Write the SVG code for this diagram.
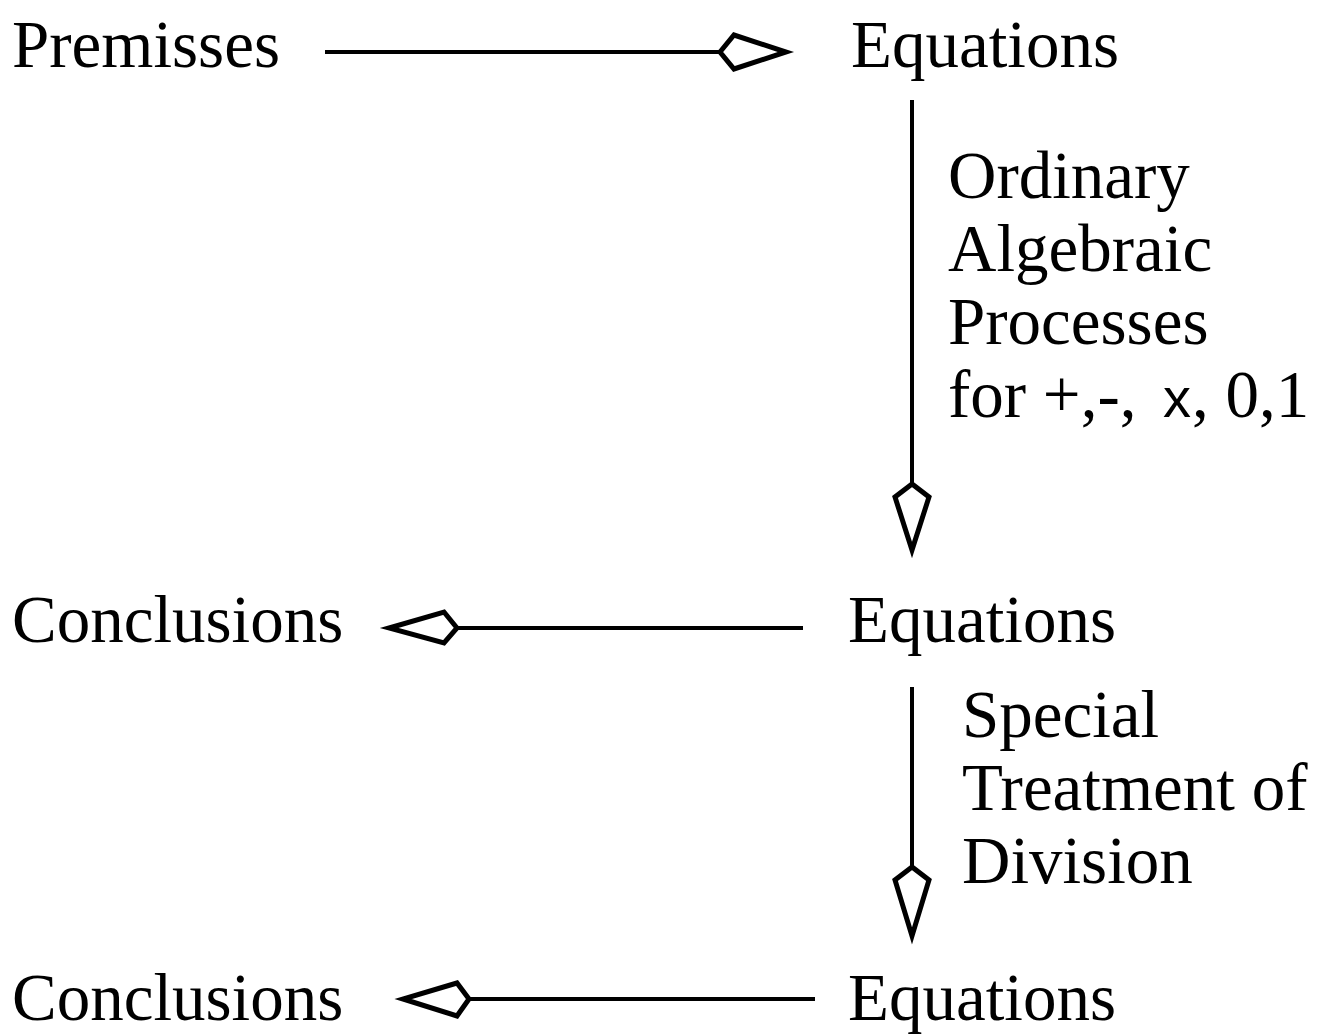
<svg xmlns="http://www.w3.org/2000/svg" width="1320" height="1036" viewBox="0 0 1320 1036">
<style>
.t{font-family:"Liberation Serif","Times New Roman",serif;font-size:67px;fill:#000}
.s{font-family:"Liberation Sans",Arial,sans-serif}
.ln{stroke:#000;stroke-width:4;fill:none}
.hd{stroke:#000;stroke-width:5;fill:#fff;stroke-linejoin:miter}
</style>
<rect width="1320" height="1036" fill="#fff"/>
<g id="n-premisses"><text class="t" x="12" y="67">Premisses</text></g>
<g id="n-eq1"><text class="t" x="851" y="67">Equations</text></g>
<g id="n-eq2"><text class="t" x="848" y="642">Equations</text></g>
<g id="n-concl1"><text class="t" x="12" y="642">Conclusions</text></g>
<g id="n-eq3"><text class="t" x="848" y="1020">Equations</text></g>
<g id="n-concl2"><text class="t" x="12" y="1020">Conclusions</text></g>
<g id="lbl-ordinary">
<text class="t" x="948" y="417" xml:space="preserve">for +,-, <tspan class="s" font-size="56" x="1163">x</tspan><tspan x="1192">, 0,1</tspan></text>
<text class="t" x="948" y="198">Ordinary</text>
<text class="t" x="948" y="271">Algebraic</text>
<text class="t" x="948" y="344">Processes</text>
</g>
<g id="lbl-special">
<text class="t" x="962" y="737">Special</text>
<text class="t" x="962" y="810">Treatment of</text>
<text class="t" x="962" y="883">Division</text>
</g>
<g id="connectors">
<line class="ln" x1="325" y1="52" x2="720" y2="52"/>
<polygon class="hd" points="720,52 734,35 786,52 734,69"/>
<line class="ln" x1="912" y1="100" x2="912" y2="484"/>
<polygon class="hd" points="912,484 895,497 912,550 929,497"/>
<line class="ln" x1="803" y1="628" x2="457" y2="628"/>
<polygon class="hd" points="457,628 444,612 389,628 444,643"/>
<line class="ln" x1="912" y1="687" x2="912" y2="867"/>
<polygon class="hd" points="912,867 895,880 912,936 929,880"/>
<line class="ln" x1="815" y1="999" x2="469" y2="999"/>
<polygon class="hd" points="469,999 457,983 403,999 457,1016"/>
</g>
</svg>
